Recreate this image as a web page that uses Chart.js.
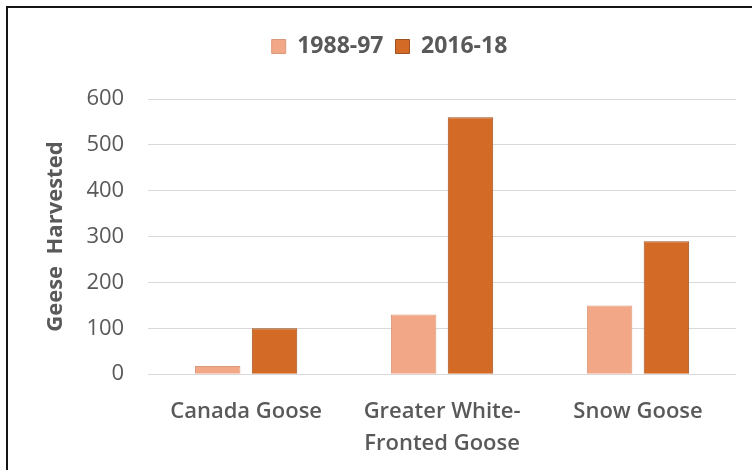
<!DOCTYPE html>
<html>
<head>
<meta charset="utf-8">
<script src="https://cdn.jsdelivr.net/npm/chart.js@4.4.1/dist/chart.umd.min.js"></script>
<style>
  html, body { margin: 0; padding: 0; background: #fff; }
  .frame {
    position: absolute; left: 6px; top: 6px;
    width: 744px; height: 462px;
    border-top: 2px solid #151515;
    border-left: 2px solid #151515;
  }
  canvas { display: block; }
</style>
</head>
<body>
<div class="frame">
  <canvas id="myChart" width="744" height="462"></canvas>
</div>
<script>
var categories = ['Canada Goose', ['Greater White-', 'Fronted Goose'], 'Snow Goose'];
var seriesNames = ['1988-97', '2016-18'];
var harvest1988 = [18, 130, 150];
var harvest2016 = [100, 560, 290];
var yTicks = [0, 100, 200, 300, 400, 500, 600];

var grey = '#595959';
var fontName = "'Open Sans', 'DejaVu Sans', sans-serif";

// give the legend some extra room below it
var legendGap = {
    id: 'legendGap',
    beforeInit: function (chart) {
        var origFit = chart.legend.fit;
        chart.legend.fit = function () {
            origFit.call(this);
            this.height += 31;
        };
    }
};

var ctx = document.getElementById('myChart');
var myChart = new Chart(ctx, {
    type: 'bar',
    data: {
        labels: categories,
        datasets: [
            {
                label: seriesNames[0],
                data: harvest1988,
                backgroundColor: '#F2A886',
                borderColor: '#DA987A',
                borderWidth: 1
            },
            {
                label: seriesNames[1],
                data: harvest2016,
                backgroundColor: '#D36A26',
                borderColor: '#9E5221',
                borderWidth: 1
            }
        ]
    },
    options: {
        responsive: false,
        animation: false,
        layout: { padding: { left: 35, right: 16, top: 15, bottom: -4 } },
        datasets: {
            bar: { categoryPercentage: 0.58, barPercentage: 0.8 }
        },
        plugins: {
            legend: {
                position: 'top',
                labels: {
                    boxWidth: 14,
                    boxHeight: 14,
                    padding: 12,
                    color: grey,
                    font: { family: fontName, size: 23, weight: 'bold' }
                }
            },
            tooltip: { enabled: false }
        },
        scales: {
            x: {
                grid: { display: false },
                border: { display: false },
                ticks: {
                    color: grey,
                    padding: 14,
                    font: { family: fontName, size: 22, weight: '600', lineHeight: 1.45 }
                }
            },
            y: {
                min: 0,
                max: 600,
                afterBuildTicks: function (axis) {
                    axis.ticks = yTicks.map(function (v) { return { value: v }; });
                },
                grid: { color: '#D9D9D9', lineWidth: 1, drawTicks: false },
                border: { display: false },
                ticks: {
                    color: grey,
                    padding: 24,
                    font: { family: fontName, size: 22 }
                },
                title: {
                    display: true,
                    text: 'Geese  Harvested',
                    color: grey,
                    padding: { top: 0, bottom: -7 },
                    font: { family: fontName, size: 22, weight: 'bold' }
                }
            }
        }
    },
    plugins: [legendGap]
});
</script>
</body>
</html>
